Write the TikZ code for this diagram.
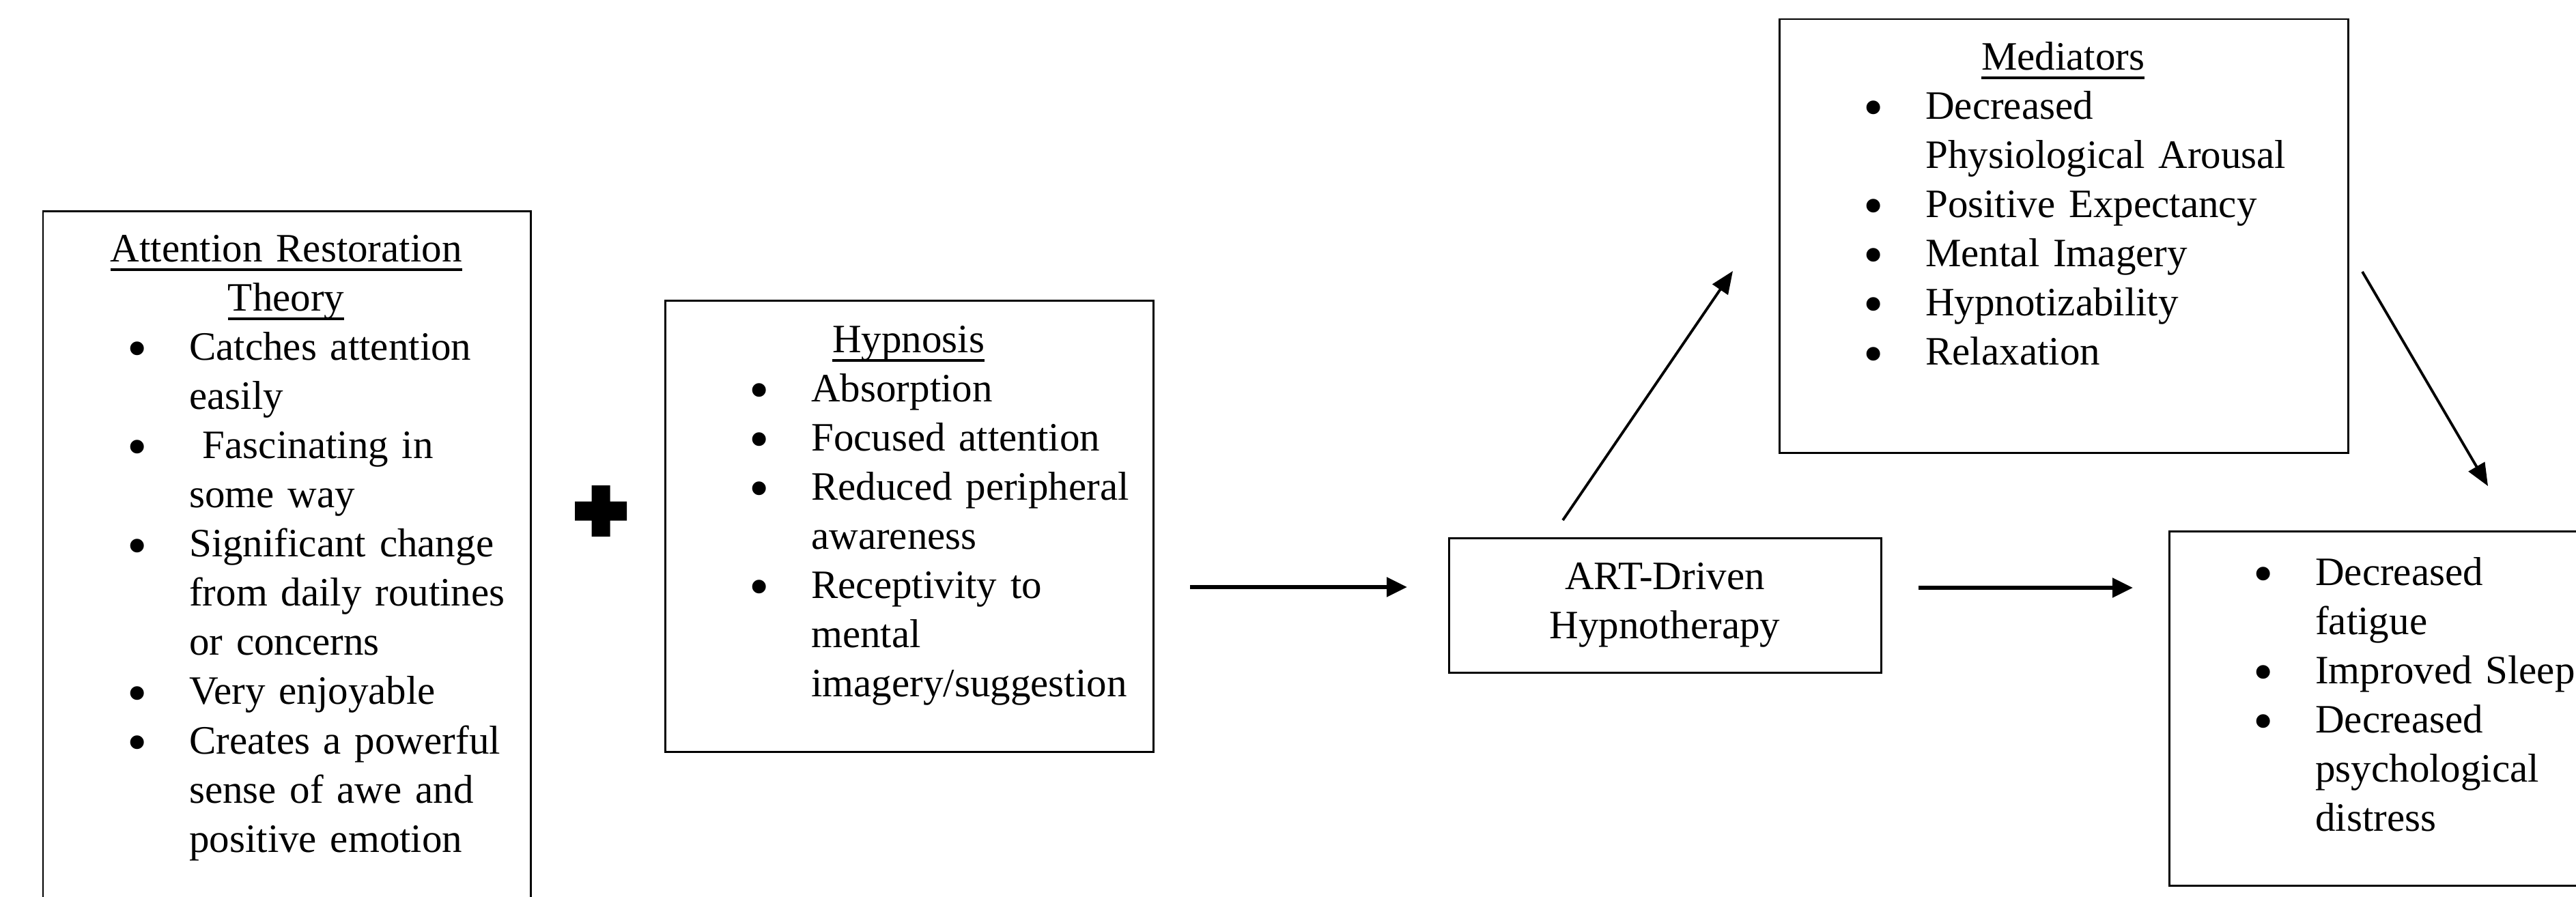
\documentclass[tikz,border=0pt]{standalone}
\usepackage{fontspec}
\setmainfont{Liberation Serif}
\usepackage{graphicx}
\usetikzlibrary{arrows.meta}

\newsavebox{\ulbox}
\newcommand{\uln}[1]{\leavevmode\sbox{\ulbox}{#1}\rlap{\rule[-0.13cm]{\wd\ulbox}{0.035cm}}\usebox{\ulbox}}
\newcommand{\bdot}{\raisebox{-0.19em}{\scalebox{1.42}{\textbullet}}}
\newcommand{\bitem}[1]{\hangindent=2.15cm\hangafter=1\noindent\makebox[2.15cm][l]{\hspace{1.39cm}\makebox[0pt]{\bdot}}#1\par}

\begin{document}
\begin{tikzpicture}[>={Triangle[length=0.30cm,width=0.28cm]},
    box/.style={draw, line width=0.85pt, inner sep=0pt},
    boxtext/.style={anchor=base west, inner sep=0pt},
    flow/.style={->, line width=1.6pt},
    link/.style={->, line width=1.1pt, >={Triangle[length=0.33cm,width=0.27cm]}},
    font=\fontsize{16.8pt}{20.5pt}\selectfont]
    \useasboundingbox (0,0) rectangle (37.73,-13.13);
    \clip (0,0) rectangle (37.73,-13.13);

    % boxes
    \node (restore) at (4.20,-8.245) [box, minimum width=7.14cm, minimum height=10.31cm] {};
    \node (hyp) at (13.315,-7.705) [box, minimum width=7.15cm, minimum height=6.61cm] {};
    \node (drive) at (24.385,-8.865) [box, minimum width=6.33cm, minimum height=1.97cm, align=center] {ART-Driven\\Hypnotherapy};
    \node (med) at (30.225,-3.455) [box, minimum width=8.33cm, minimum height=6.35cm] {};
    \node (outc) at (34.885,-10.375) [box, minimum width=6.23cm, minimum height=5.19cm] {};

    % box contents
    \node (restoretext) at (restore.north west) [boxtext, yshift=-0.76cm, text width=7.14cm] {%
        {\centering\uln{Attention Restoration}\\\uln{Theory}\par}
        \bitem{Catches attention\newline easily}
        \bitem{\ Fascinating in\newline some way}
        \bitem{Significant change\newline from daily routines\newline or concerns}
        \bitem{Very enjoyable}
        \bitem{Creates a powerful\newline sense of awe and\newline positive emotion}};
    \node (hyptext) at (hyp.north west) [boxtext, yshift=-0.78cm, text width=7.15cm] {%
        {\centering\uln{Hypnosis}\par}
        \bitem{Absorption}
        \bitem{Focused attention}
        \bitem{Reduced peripheral\newline awareness}
        \bitem{Receptivity to\newline mental\newline imagery/suggestion}};
    \node (medtext) at (med.north west) [boxtext, yshift=-0.76cm, text width=8.33cm] {%
        {\centering\uln{Mediators}\par}
        \bitem{Decreased\newline Physiological Arousal}
        \bitem{Positive Expectancy}
        \bitem{Mental Imagery}
        \bitem{Hypnotizability}
        \bitem{Relaxation}};
    \node (outctext) at (outc.north west) [boxtext, yshift=-0.81cm, text width=6.23cm] {%
        \bitem{Decreased\newline fatigue}
        \bitem{Improved Sleep}
        \bitem{Decreased\newline psychological\newline distress}};

    % plus sign
    \coordinate (plus) at (8.80,-7.485);
    \fill [shift={(plus)}] (-0.38,-0.14) rectangle (0.38,0.14) (-0.135,-0.375) rectangle (0.135,0.375);

    % arrows
    \coordinate (in1) at (17.43,-8.60);
    \coordinate (in2) at (20.61,-8.60);
    \coordinate (out1) at (28.10,-8.61);
    \coordinate (out2) at (31.24,-8.61);
    \coordinate (up1) at (22.89,-7.62);
    \coordinate (up2) at (25.38,-3.97);
    \coordinate (dn1) at (34.60,-3.98);
    \coordinate (dn2) at (36.44,-7.12);

    \draw [flow] (in1) -- (in2);
    \draw [flow] (out1) -- (out2);
    \draw [link] (up1) -- (up2);
    \draw [link] (dn1) -- (dn2);
\end{tikzpicture}
\end{document}
